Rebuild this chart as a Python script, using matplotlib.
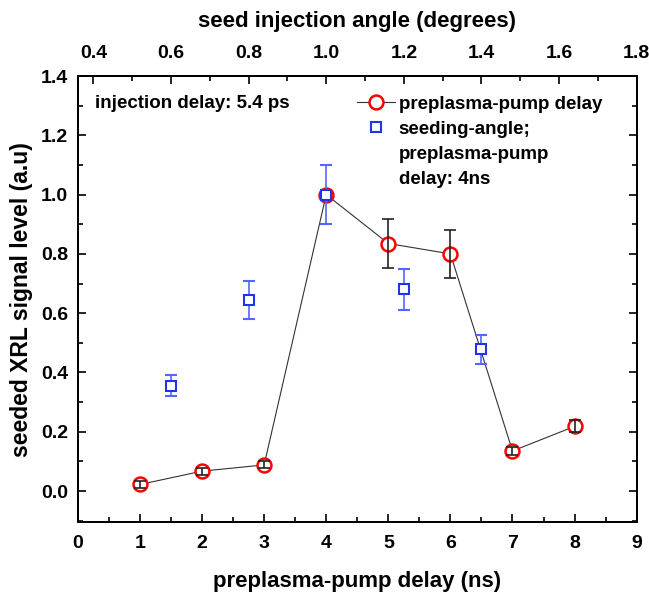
import matplotlib
matplotlib.use("Agg")
from matplotlib import pyplot as plt
from matplotlib.ticker import MultipleLocator
from matplotlib.lines import Line2D
import numpy as np

# preplasma-pump delay scan (bottom axis)
delay_ns = [1, 2, 3, 4, 5, 6, 7, 8]
delay_signal = [0.022, 0.067, 0.088, 1.0, 0.835, 0.80, 0.135, 0.218]
delay_err = [0.012, 0.012, 0.012, 0.012, 0.083, 0.08, 0.015, 0.02]

# seeding-angle scan (top axis)
angle_deg = [0.6, 0.8, 1.0, 1.2, 1.4]
angle_signal = [0.355, 0.645, 1.0, 0.68, 0.478]
angle_err = [0.035, 0.065, 0.1, 0.068, 0.048]

plt.rcParams['font.family'] = ['Liberation Sans', 'DejaVu Sans']
plt.rcParams['font.weight'] = 'bold'

fig = plt.figure(figsize=(6.49, 5.94), dpi=100)
ax = fig.add_axes([0.120, 0.121, 0.861, 0.751])
ax2 = ax.twiny()

ax.plot(delay_ns, delay_signal, color='#333333', lw=0.8, marker='o', ms=10,
        mfc='white', mec='red', mew=1.8, zorder=3)
ax.errorbar(delay_ns, delay_signal, yerr=delay_err, ls='none', ecolor='#222222',
            elinewidth=1.2, capsize=4, capthick=1.2, zorder=4)
ax2.errorbar(angle_deg, angle_signal, yerr=angle_err, ls='none',
             ecolor='#5566ff', elinewidth=1.2, capsize=4, capthick=1.2,
             marker='s', ms=7, mfc='white', mec='#2233ee', mew=1.5, zorder=5)

ax.set_xlim(0, 9)
ax.set_ylim(-0.105, 1.4)
ax2.set_xlim(0.36, 1.8)

ax.xaxis.set_major_locator(MultipleLocator(1))
ax.xaxis.set_minor_locator(MultipleLocator(0.5))
ax.yaxis.set_major_locator(MultipleLocator(0.2))
ax.yaxis.set_minor_locator(MultipleLocator(0.1))
ax2.xaxis.set_major_locator(MultipleLocator(0.2))
ax2.xaxis.set_minor_locator(MultipleLocator(0.1))
ax.yaxis.set_major_formatter(plt.FormatStrFormatter('%.1f'))
ax2.xaxis.set_major_formatter(plt.FormatStrFormatter('%.1f'))

ax.tick_params(which='both', direction='in', right=True, labelsize=14, width=1.2)
ax.tick_params(which='major', length=6)
ax.tick_params(which='minor', length=3.5)
ax.tick_params(axis='x', which='major', pad=9)
ax.tick_params(axis='y', which='major', pad=7)
ax.tick_params(axis='x', which='both', top=False)
ax2.tick_params(which='both', direction='in', labelsize=14, width=1.2)
ax2.tick_params(which='major', length=6, pad=10)
ax2.tick_params(which='minor', length=3.5)
for a in (ax, ax2):
    for s in a.spines.values():
        s.set_linewidth(1.4)

ax.set_xlabel('preplasma-pump delay (ns)', fontsize=16, fontweight='bold', labelpad=14)
ax.set_ylabel('seeded XRL signal level (a.u)', fontsize=16.5, fontweight='bold', labelpad=6)
ax2.set_xlabel('seed injection angle (degrees)', fontsize=16, fontweight='bold', labelpad=13)

ax.text(0.03, 0.939, 'injection delay: 5.4 ps', transform=ax.transAxes,
        fontsize=13.5, fontweight='bold', va='center')

blank = Line2D([], [], ls='none', marker=None)
handles = [
    Line2D([], [], color='#333333', lw=0.8, marker='o', ms=10, mfc='white', mec='red', mew=1.8),
    Line2D([], [], ls='none', marker='s', ms=7, mfc='white', mec='#2233ee', mew=1.5),
    blank, blank,
]
labels = ['preplasma-pump delay', 'seeding-angle;', 'preplasma-pump', 'delay: 4ns']
leg = ax.legend(handles, labels, loc='upper left', bbox_to_anchor=(0.50, 0.956),
                frameon=False, fontsize=13.5, handlelength=2.0, handletextpad=0.2,
                labelspacing=0.42, borderaxespad=0, borderpad=0)
for t in leg.get_texts():
    t.set_fontweight('bold')

fig.savefig('out.png', dpi=100)
